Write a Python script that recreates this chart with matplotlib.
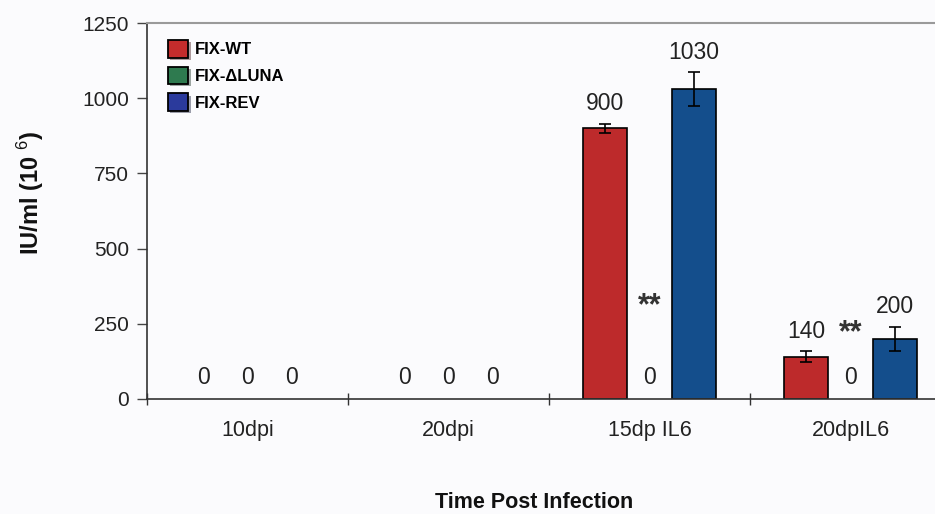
import matplotlib
matplotlib.use("Agg")
import matplotlib.pyplot as plt
import matplotlib.patheffects as pe
import numpy as np

plt.rcParams['font.family'] = ['Liberation Sans', 'DejaVu Sans']
plt.rcParams['mathtext.fontset'] = 'custom'
plt.rcParams['mathtext.rm'] = 'Liberation Sans'

# data
categories = ["10dpi", "20dpi", "15dp IL6", "20dpIL6"]
series = ["FIX-WT", "FIX-\u0394LUNA", "FIX-REV"]
wt = [0, 0, 900, 140]
luna = [0, 0, 0, 0]
rev = [0, 0, 1030, 200]
wt_err = [0, 0, 15, 18]
luna_err = [0, 0, 0, 0]
rev_err = [0, 0, 57, 40]
stars_cat = [2, 3]
stars_y = [319, 230]

bar_cols = ["#bd2a2b", "#2d7a50", "#144e8c"]
legend_cols = ["#c42c2c", "#2e7a4f", "#2b3a9c"]
bg = "#fbfbfd"

fig = plt.figure(figsize=(9.35, 5.14), dpi=100, facecolor=bg)
ax = fig.add_axes([147/935, 1-399/514, 804/935, 376/514], facecolor=bg)

x = np.arange(len(categories)) + 0.5
w = 0.22
offs = [-0.22, 0.0, 0.22]
vals = [wt, luna, rev]
errs = [wt_err, luna_err, rev_err]

for i in range(3):
    v = np.array(vals[i])
    e = np.array(errs[i])
    xs = x + offs[i]
    nz = v > 0
    ax.bar(xs[nz], v[nz], width=w, color=bar_cols[i], edgecolor="black", linewidth=1.2, zorder=2)
    ax.errorbar(xs[nz], v[nz], yerr=e[nz], fmt="none", ecolor="black", elinewidth=1.2, capsize=4, capthick=1.2, zorder=3)
    for xx, vv, ee in zip(xs, v, e):
        if vv > 0:
            ax.annotate(f"{vv}", (xx, vv + ee), xytext=(0, 6), textcoords="offset points",
                        ha="center", va="bottom", fontsize=16.5, color="#222222")
        else:
            ax.text(xx, 70, "0", ha="center", va="center", fontsize=16.5, color="#222222")

for c, yy in zip(stars_cat, stars_y):
    ax.text(x[c] + offs[1], yy - 10, "**", ha="center", va="center", fontsize=22,
            fontweight="bold", color="#333333")

ax.set_xlim(0, 4)
ax.set_ylim(0, 1250)
ax.set_yticks([0, 250, 500, 750, 1000, 1250])
ax.set_xticks([0, 1, 2, 3, 4])
ax.set_xticklabels([])
ax.set_xticks(x, minor=True)
ax.set_xticklabels(categories, minor=True)
ax.tick_params(axis="x", which="minor", length=0, pad=15, labelsize=15.5, labelcolor="#222222")
ax.tick_params(axis="x", which="major", direction="inout", length=8, width=1, color="#333333")
ax.tick_params(axis="y", direction="out", length=7, width=1, color="#444444", labelsize=15, labelcolor="#222222", pad=6)

ax.spines["right"].set_visible(False)
ax.spines["top"].set_color("#9a9a9a")
ax.spines["top"].set_linewidth(1.5)
ax.spines["left"].set_color("#333333")
ax.spines["bottom"].set_color("#333333")
ax.spines["left"].set_linewidth(1.2)
ax.spines["bottom"].set_linewidth(1.2)

handles = [plt.Rectangle((0, 0), 1, 1, facecolor=legend_cols[i], edgecolor="black", linewidth=1.3,
                         path_effects=[pe.SimplePatchShadow(offset=(1.5, -1.5), alpha=0.4), pe.Normal()])
           for i in range(3)]
leg = ax.legend(handles, series, loc="upper left", bbox_to_anchor=(0.007, 0.995), frameon=False,
                handlelength=1.25, handleheight=1.25, handletextpad=0.4, labelspacing=0.55,
                prop={"weight": "bold", "size": 12})

fig.text(31/935, 1-193/514, "IU/ml (10 $^{6}$)", rotation=90, ha="center", va="center",
         fontsize=17, fontweight="bold", color="#111111")
fig.text(534/935, 1-503/514, "Time Post Infection", ha="center", va="center",
         fontsize=15.5, fontweight="bold", color="#111111")

fig.savefig("out.png", dpi=100, facecolor=bg)
